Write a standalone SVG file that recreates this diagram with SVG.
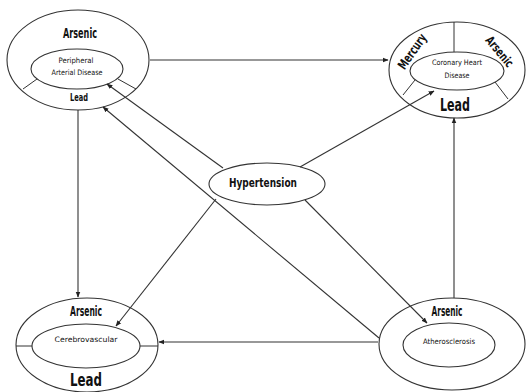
<svg xmlns="http://www.w3.org/2000/svg" width="526" height="392" viewBox="0 0 526 392">
<defs>
<marker id="ah" viewBox="0 0 10 10" refX="9" refY="5" markerWidth="6" markerHeight="6" orient="auto" markerUnits="userSpaceOnUse">
<path d="M0,1 L10,5 L0,9 z" fill="#222"/>
</marker>
<style>
.o{fill:#fff;stroke:#333;stroke-width:1.1}
.l{fill:none;stroke:#333;stroke-width:1}
.c{fill:none;stroke:#333;stroke-width:1.1;marker-end:url(#ah)}
text{font-family:"Liberation Sans Narrow","DejaVu Sans Condensed","Liberation Sans",sans-serif;font-weight:bold;fill:#111;text-anchor:middle;dominant-baseline:middle}
.s{font-size:7.5px;font-weight:normal}
.m{font-size:14px}
.b{font-size:18px}
</style>
</defs>
<rect width="526" height="392" fill="#fff"/>
<g id="pad">
<ellipse class="o" cx="78" cy="60" rx="71" ry="50"/>
<line class="l" x1="23" y1="89" x2="37" y2="79"/>
<line class="l" x1="118" y1="79" x2="136" y2="89"/>
<ellipse class="o" cx="77" cy="69" rx="46" ry="20"/>
<text class="m" x="80" y="34" textLength="34" lengthAdjust="spacingAndGlyphs">Arsenic</text>
<text class="s" x="76" y="61" textLength="35" lengthAdjust="spacingAndGlyphs">Peripheral</text>
<text class="s" x="77" y="73" textLength="51" lengthAdjust="spacingAndGlyphs">Arterial Disease</text>
<text x="79" y="98" font-size="10" textLength="18" lengthAdjust="spacingAndGlyphs">Lead</text>
</g>
<g id="chd">
<ellipse class="o" cx="457" cy="70" rx="68" ry="48"/>
<line class="l" x1="454" y1="22" x2="454" y2="52"/>
<line class="l" x1="403" y1="95" x2="415" y2="80"/>
<line class="l" x1="495" y1="82" x2="508" y2="99"/>
<ellipse class="o" cx="457" cy="71" rx="47" ry="19"/>
<text x="413" y="52" font-size="13" transform="rotate(-55 413 52)" textLength="40" lengthAdjust="spacingAndGlyphs">Mercury</text>
<text x="499" y="52" font-size="12.5" transform="rotate(50 499 52)" textLength="36" lengthAdjust="spacingAndGlyphs">Arsenic</text>
<text class="s" x="457" y="63" textLength="50" lengthAdjust="spacingAndGlyphs">Coronary Heart</text>
<text class="s" x="457" y="76" textLength="25" lengthAdjust="spacingAndGlyphs">Disease</text>
<text class="b" x="455" y="106" textLength="30" lengthAdjust="spacingAndGlyphs">Lead</text>
</g>
<g id="cerebro">
<ellipse class="o" cx="87" cy="345" rx="71" ry="47"/>
<line class="l" x1="16" y1="346" x2="33" y2="346"/>
<line class="l" x1="140" y1="346" x2="158" y2="346"/>
<ellipse class="o" cx="86" cy="346" rx="54" ry="22"/>
<text class="m" x="86" y="312" textLength="32" lengthAdjust="spacingAndGlyphs">Arsenic</text>
<text class="s" x="86" y="340" textLength="63" lengthAdjust="spacingAndGlyphs">Cerebrovascular</text>
<text class="b" x="86" y="381" textLength="32" lengthAdjust="spacingAndGlyphs">Lead</text>
</g>
<g id="athero">
<ellipse class="o" cx="452" cy="344" rx="73" ry="46"/>
<ellipse class="o" cx="449" cy="345" rx="46" ry="22"/>
<text class="m" x="447" y="312" textLength="31" lengthAdjust="spacingAndGlyphs">Arsenic</text>
<text class="s" x="449" y="342" textLength="52" lengthAdjust="spacingAndGlyphs">Atherosclerosis</text>
</g>
<g id="hypertension">
<ellipse class="o" cx="267" cy="184" rx="58" ry="21"/>
<text x="263" y="183" font-size="12.5" textLength="68" lengthAdjust="spacingAndGlyphs">Hypertension</text>
</g>
<g id="connectors">
<line class="c" x1="150" y1="60" x2="388" y2="60"/>
<line class="c" x1="78" y1="110" x2="78" y2="297"/>
<line class="c" x1="454" y1="298" x2="454" y2="118"/>
<line class="c" x1="378" y1="342" x2="159" y2="342"/>
<line class="c" x1="300" y1="167" x2="434" y2="91"/>
<line class="c" x1="223" y1="168" x2="107" y2="84"/>
<line class="c" x1="379" y1="338" x2="103" y2="107"/>
<line class="c" x1="216" y1="199" x2="116" y2="326"/>
<line class="c" x1="305" y1="200" x2="427" y2="323"/>
</g>
</svg>
